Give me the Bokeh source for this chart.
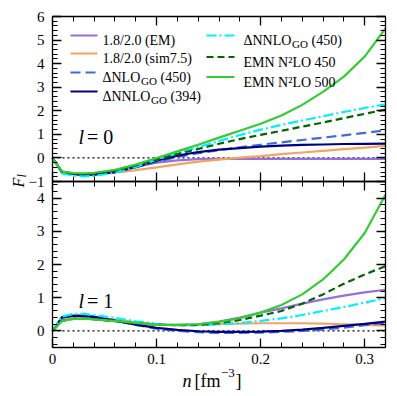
import math
from bokeh.plotting import figure
from bokeh.models import (Range1d, LinearAxis, FixedTicker, Label,
                          NumeralTickFormatter)
from bokeh.embed import file_html
from bokeh.resources import INLINE

# ---------------- data ----------------
n = [0.0, 0.009, 0.02, 0.03, 0.04, 0.06, 0.08, 0.10, 0.12, 0.14,
     0.16, 0.18, 0.20, 0.22, 0.24, 0.26, 0.28, 0.30, 0.32]

# l = 0
f0_em = [0, -0.58, -0.66, -0.69, -0.68, -0.57, -0.38, -0.20, -0.10, -0.05,
         -0.04, -0.04, -0.04, -0.04, -0.04, -0.04, -0.04, -0.04, -0.04]
f0_sim = [0, -0.58, -0.66, -0.69, -0.69, -0.63, -0.52, -0.40, -0.27, -0.16,
          -0.07, 0.01, 0.08, 0.16, 0.23, 0.30, 0.37, 0.44, 0.51]
f0_nlo450 = [0, -0.60, -0.68, -0.71, -0.70, -0.60, -0.40, -0.17, 0.04, 0.20,
             0.33, 0.45, 0.56, 0.66, 0.76, 0.86, 0.96, 1.06, 1.17]
f0_nnlo394 = [0, -0.60, -0.69, -0.72, -0.71, -0.60, -0.38, -0.12, 0.10, 0.25,
              0.35, 0.42, 0.48, 0.52, 0.55, 0.57, 0.59, 0.60, 0.61]
f0_nnlo450 = [0, -0.66, -0.75, -0.78, -0.76, -0.62, -0.38, -0.08, 0.20, 0.46,
              0.72, 0.97, 1.20, 1.40, 1.59, 1.77, 1.95, 2.12, 2.27]
f0_emn450 = [0, -0.60, -0.67, -0.69, -0.67, -0.54, -0.32, -0.07, 0.16, 0.38,
             0.60, 0.80, 0.98, 1.15, 1.33, 1.50, 1.69, 1.87, 2.05]
f0_emn500 = [0, -0.58, -0.64, -0.65, -0.63, -0.50, -0.28, 0.00, 0.28, 0.56,
             0.86, 1.15, 1.45, 1.80, 2.25, 2.80, 3.45, 4.30, 5.50]

# l = 1
f1_em = [0, 0.36, 0.43, 0.43, 0.41, 0.33, 0.25, 0.19, 0.18, 0.20,
         0.28, 0.40, 0.55, 0.68, 0.82, 0.95, 1.06, 1.16, 1.24]
f1_sim = [0, 0.36, 0.43, 0.43, 0.41, 0.33, 0.25, 0.19, 0.17, 0.18,
          0.20, 0.22, 0.23, 0.23, 0.23, 0.22, 0.20, 0.18, 0.16]
f1_nlo450 = [0, 0.40, 0.46, 0.45, 0.42, 0.31, 0.18, 0.07, 0.00, -0.04,
             -0.06, -0.06, -0.05, -0.03, 0.00, 0.04, 0.10, 0.17, 0.24]
f1_nnlo394 = [0, 0.41, 0.46, 0.45, 0.42, 0.31, 0.19, 0.09, 0.03, -0.01,
              -0.03, -0.03, -0.02, 0.00, 0.04, 0.09, 0.15, 0.21, 0.28]
f1_nnlo450 = [0, 0.43, 0.51, 0.51, 0.48, 0.39, 0.29, 0.21, 0.17, 0.17,
              0.20, 0.24, 0.30, 0.38, 0.48, 0.60, 0.72, 0.85, 0.99]
f1_emn450 = [0, 0.30, 0.36, 0.37, 0.35, 0.29, 0.23, 0.19, 0.17, 0.18,
             0.23, 0.33, 0.46, 0.60, 0.82, 1.10, 1.42, 1.70, 1.95]
f1_emn500 = [0, 0.30, 0.36, 0.37, 0.35, 0.30, 0.24, 0.19, 0.18, 0.20,
             0.27, 0.38, 0.55, 0.78, 1.10, 1.55, 2.15, 2.95, 4.10]

x_ticks = [0, 0.1, 0.2, 0.3]
x_minor_ticks = [round(0.02 * k, 2) for k in range(17)]
top_y_ticks = [-1, 0, 1, 2, 3, 4, 5, 6]
top_y_minor = [round(-1 + 0.2 * k, 1) for k in range(36)]
bot_y_ticks = [0, 1, 2, 3, 4]
bot_y_minor = [round(-0.4 + 0.2 * k, 1) for k in range(25)]

# ---------------- styling / layout (pixels of the picture) ----------------
FONT = "Liberation Serif"
TICK_FS = "15px"
LEG_FS = "14px"
SUB_FS = "11px"

W, H = 392, 392
FRAME_L, FRAME_R = 52, 385
T_TOP, T_BOT = 16, 181          # top panel
B_TOP, B_BOT = 181, 347         # bottom panel
X0, X1 = 0.0, 0.32
TY0, TY1 = -1, 6
BY0, BY1 = -0.5, 4.5

sx = (X1 - X0) / (FRAME_R - FRAME_L)
sb = (BY1 - BY0) / (B_BOT - B_TOP)
st = (TY1 - TY0) / (T_BOT - T_TOP)


def dx(px):
    return X0 + (px - FRAME_L) * sx


def dyb(py):
    return BY0 + (B_BOT - py) * sb


p = figure(width=W, height=H,
           x_range=Range1d(X0 - FRAME_L * sx, X1 + (W - FRAME_R) * sx),
           y_range=Range1d(BY0 - (H - B_BOT) * sb, BY1 + B_TOP * sb),
           x_axis_type=None, y_axis_type=None,
           output_backend="svg", toolbar_location=None, min_border=0)
p.min_border_left = p.min_border_right = 0
p.min_border_top = p.min_border_bottom = 0
p.outline_line_color = None
p.background_fill_color = "white"
p.border_fill_color = "white"
p.extra_y_ranges = {"top": Range1d(TY0 - (H - T_BOT) * st, TY1 + T_TOP * st)}


def style_axis(ax, labels):
    ax.axis_line_color = "black"
    ax.axis_line_width = 1.3
    ax.major_tick_in = 9
    ax.major_tick_out = 0
    ax.minor_tick_in = 5
    ax.minor_tick_out = 0
    ax.major_tick_line_width = 1.3
    ax.minor_tick_line_width = 1.0
    ax.major_tick_line_color = "black"
    ax.minor_tick_line_color = "black"
    ax.major_label_text_font = FONT
    if labels:
        ax.major_label_text_color = "black"
        ax.major_label_text_font_size = TICK_FS
    else:
        ax.major_label_text_color = None
        ax.major_label_text_alpha = 0
        ax.major_label_text_font_size = "0px"
        ax.major_label_standoff = 0


def add_axis(side, ticker, fixed, bounds, labels, rng=None, fmt=None,
             overrides=None, standoff=8):
    ax = LinearAxis(ticker=ticker, fixed_location=fixed, bounds=bounds)
    if fmt is not None:
        ax.formatter = fmt
    if rng is not None:
        ax.y_range_name = rng
    style_axis(ax, labels)
    if labels:
        ax.major_label_standoff = standoff
    if overrides:
        ax.major_label_overrides = overrides
    p.add_layout(ax, side)


xt = FixedTicker(ticks=x_ticks, minor_ticks=x_minor_ticks)
ytt = FixedTicker(ticks=top_y_ticks, minor_ticks=top_y_minor)
ybt = FixedTicker(ticks=bot_y_ticks, minor_ticks=bot_y_minor)

add_axis("below", xt, BY0, (X0, X1), True, fmt=NumeralTickFormatter(format="0.[0]"), standoff=6)
add_axis("below", xt, BY1, (X0, X1), False)
add_axis("above", xt, BY1, (X0, X1), False)
add_axis("above", xt, TY1, (X0, X1), False, rng="top")
add_axis("left", ybt, X0, (BY0, BY1), True)
add_axis("left", ytt, X0, (TY0, TY1), True, rng="top", overrides={-1: "\u22121"})
add_axis("right", ybt, X1, (BY0, BY1), False)
add_axis("right", ytt, X1, (TY0, TY1), False, rng="top")

# dotted zero lines
p.line([X0, X1], [0, 0], line_color="black", line_dash="2 3", line_width=1.3)
p.line([X0, X1], [0, 0], line_color="black", line_dash="2 3", line_width=1.3,
       y_range_name="top")

styles = [
    dict(color="#9370DB", dash="solid"),
    dict(color="#F4A460", dash="solid"),
    dict(color="#4169E1", dash="10 5"),
    dict(color="#000080", dash="solid"),
    dict(color="#00F0FF", dash="10 3 2 3"),
    dict(color="#006400", dash="7 4"),
    dict(color="#32CD32", dash="solid"),
]
top_series = [f0_em, f0_sim, f0_nlo450, f0_nnlo394, f0_nnlo450, f0_emn450, f0_emn500]
bot_series = [f1_em, f1_sim, f1_nlo450, f1_nnlo394, f1_nnlo450, f1_emn450, f1_emn500]

for ys, s in zip(top_series, styles):
    p.line(n, ys, line_color=s["color"], line_dash=s["dash"], line_width=2.2,
           y_range_name="top")
for ys, s in zip(bot_series, styles):
    p.line(n, ys, line_color=s["color"], line_dash=s["dash"], line_width=2.2)


def lab(px, py, text, size, style="normal", angle=0.0):
    p.add_layout(Label(x=dx(px), y=dyb(py), text=text, text_font=FONT,
                       text_font_size=size, text_font_style=style,
                       text_align="left", text_baseline="alphabetic",
                       angle=angle, text_color="black"))


# ---- legend (two columns, by hand because of the subscripts) ----
# sample x0, x1, text x, row centre y, runs (text, dx, size, rise)
legend = [
    (70, 97, 102, 35, [("1.8/2.0 (EM)", 0, LEG_FS, 0)]),
    (70, 97, 102, 53, [("1.8/2.0 (sim7.5)", 0, LEG_FS, 0)]),
    (70, 97, 102, 72, [("\u0394NLO", 0, LEG_FS, 0), ("GO", 38.5, SUB_FS, -3.5), ("(450)", 58, LEG_FS, 0)]),
    (70, 97, 102, 91, [("\u0394NNLO", 0, LEG_FS, 0), ("GO", 48.5, SUB_FS, -3.5), ("(394)", 68, LEG_FS, 0)]),
    (206, 234, 243, 35, [("\u0394NNLO", 0, LEG_FS, 0), ("GO", 48.5, SUB_FS, -3.5), ("(450)", 68, LEG_FS, 0)]),
    (206, 234, 243, 56.5, [("EMN N\u00b2LO 450", 0, LEG_FS, 0)]),
    (206, 234, 243, 76.5, [("EMN N\u00b2LO 500", 0, LEG_FS, 0)]),
]
for (sx0, sx1, tx0, yc, runs), s in zip(legend, styles):
    p.line([dx(sx0), dx(sx1)], [dyb(yc), dyb(yc)], line_color=s["color"],
           line_dash=s["dash"], line_width=2.2)
    for text, off, size, rise in runs:
        lab(tx0 + off, yc + 5 - rise, text, size)

# ---- l = 0 / l = 1 ----
lab(78, 136, "l", "20px", "italic")
lab(86.5, 136, "= 0", "20px")
lab(78, 300.5, "l", "20px", "italic")
lab(86.5, 300.5, "= 1", "20px")

# ---- x axis label  n [fm^-3] ----
lab(182, 380, "n", "18px", "italic")
lab(194, 380, "[fm", "18px")
lab(220.5, 372.5, "\u22123", "13px")
lab(235, 380, "]", "18px")

# ---- y axis label  F_l (rotated) ----
lab(18, 187, "F", "16px", "italic", angle=math.pi / 2)
lab(21, 177, "l", "12px", "italic", angle=math.pi / 2)

open("out.html", "w").write(file_html(p, INLINE))
